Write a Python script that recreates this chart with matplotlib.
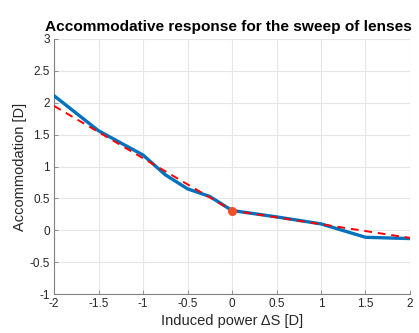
import matplotlib.pyplot as plt

# measured response (blue) and fitted model (red dashed)
power = [-2, -1.5, -1, -0.75, -0.5, -0.25, 0, 0.5, 1, 1.5, 2]
accom = [2.11, 1.56, 1.18, 0.87, 0.65, 0.53, 0.31, 0.21, 0.10, -0.11, -0.13]
fit_x = [-2, 0, 2]
fit_y = [1.95, 0.31, -0.12]
ref_x = [0]
ref_y = [0.31]

xticks = [-2, -1.5, -1, -0.5, 0, 0.5, 1, 1.5, 2]
xtick_labels = ['-2', '-1.5', '-1', '-0.5', '0', '0.5', '1', '1.5', '2']
yticks = [-1, -0.5, 0, 0.5, 1, 1.5, 2, 2.5, 3]
ytick_labels = ['-1', '-0.5', '0', '0.5', '1', '1.5', '2', '2.5', '3']

plt.rcParams['font.family'] = ['Liberation Sans', 'DejaVu Sans']

fig = plt.figure(figsize=(4.19, 3.33), dpi=100)
ax = fig.add_axes([0.129, 0.117, 0.8495, 0.766])

ax.plot(power, accom, color='#0072BD', linewidth=2.4, zorder=3)
ax.plot(fit_x, fit_y, color='red', linestyle=(0, (4, 3)), linewidth=1.4, zorder=4)
ax.plot(ref_x, ref_y, 'o', color='#F0502A', markersize=5.5, zorder=5)

ax.set_xlim(-2, 2)
ax.set_ylim(-1, 3)
ax.set_xticks(xticks)
ax.set_xticklabels(xtick_labels)
ax.set_yticks(yticks)
ax.set_yticklabels(ytick_labels)
ax.grid(True, color='#e6e6e6', linewidth=0.8)
ax.set_axisbelow(True)

for side in ['top', 'right']:
    ax.spines[side].set_visible(False)
for side in ['left', 'bottom']:
    ax.spines[side].set_color('#808080')
    ax.spines[side].set_linewidth(0.8)
ax.tick_params(direction='in', length=3, width=0.6, color='#808080',
               labelsize=8.5, labelcolor='#262626', pad=3)

ax.set_title('Accommodative response for the sweep of lenses',
             fontsize=11.1, fontweight='bold', pad=6, x=0.49)
ax.set_xlabel('Induced power ΔS [D]', fontsize=10.5, color='#262626', labelpad=3)
ax.set_ylabel('Accommodation [D]', fontsize=10.5, color='#262626', labelpad=2)

fig.savefig('out.png', dpi=100)
